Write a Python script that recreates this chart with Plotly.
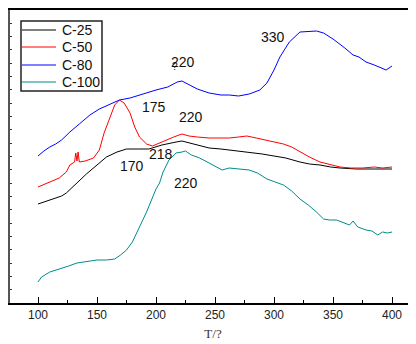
import plotly.graph_objects as go

# Temperature (T) and signal (a.u.)
t_c25 = [100,110,120,124,130,135,141,150,158,167,175,185,194,205,212,217,222,228,236,245,255,262,270,279,290,300,310,322,330,339,348,356,370,385,400]
y_c25 = [99,103,107,110,117,122,129,138,146,151,154,154,154,158,160,161,162,160,158,155,154,153,152,151,149,147,145,141,139,138,136,135,134,134,134]

t_c50 = [100,110,118,124,127,131,132,133,134,135,140,147,152,156,161,165,169,173,178,182,186,192,197,203,210,215,222,228,235,245,255,262,270,277,285,292,300,308,315,322,330,339,348,356,365,375,385,392,400]
y_c50 = [116,121,125,131,138,141,150,142,151,141,142,145,153,170,186,198,203,200,190,176,166,159,157,160,164,166,169,167,166,165,165,165,166,167,165,163,161,159,156,151,146,141,138,136,135,135,136,135,136]

t_c80 = [100,105,110,115,120,127,135,144,152,161,169,178,186,194,200,210,218,222,228,235,245,255,262,270,279,288,294,300,305,313,322,330,336,342,350,360,367,372,378,385,389,393,395,400]
y_c80 = [147,152,156,159,163,171,179,188,194,199,203,205,208,211,213,216,221,222,218,214,210,208,208,207,209,213,220,233,246,261,271,272,272,270,264,255,248,246,241,238,236,234,233,237]

t_c100 = [100,103,110,119,126,133,140,150,158,165,170,175,180,183,188,192,196,200,203,206,211,217,222,225,230,237,245,256,262,270,279,286,294,301,308,315,322,329,336,342,347,353,358,364,367,371,378,383,388,392,396,400]
y_c100 = [21,26,31,34,37,40,41,43,43,44,48,53,61,68,81,91,103,114,120,131,143,150,151,152,148,145,140,133,135,134,133,130,124,121,118,112,104,98,91,84,83,83,81,78,82,76,73,72,68,71,70,71]

series_names = ["C-25", "C-50", "C-80", "C-100"]
series_colors = ["#000000", "#ff0000", "#0000ff", "#008b8b"]

ann_text = ["220", "330", "175", "220", "218", "170", "220"]
ann_t = [223, 299, 198, 230, 204.5, 180, 225]
ann_y = [241, 266, 196, 186, 149, 137, 120]

x_ticks = [100, 150, 200, 250, 300, 350, 400]

FONT = "Liberation Sans, Arial"

fig = go.Figure()
for name, tx, ty, col in zip(series_names, [t_c25, t_c50, t_c80, t_c100],
                             [y_c25, y_c50, y_c80, y_c100], series_colors):
    fig.add_trace(go.Scatter(x=tx, y=ty, mode="lines", name=name,
                             line=dict(color=col, width=1), showlegend=False))

for txt, ax_, ay_ in zip(ann_text, ann_t, ann_y):
    fig.add_annotation(x=ax_, y=ay_, text=txt, showarrow=False,
                       font=dict(family=FONT, size=14, color="#111"))
# small stray glyph overlapping the blue "220" label
fig.add_annotation(x=216.1, y=237, text="?", showarrow=False,
                   font=dict(family=FONT, size=10, color="#111"))

# legend box drawn in paper coordinates
leg_x0, leg_x1, leg_y0, leg_y1 = 0.0271, 0.2266, 0.7235, 0.9625
fig.add_shape(type="rect", xref="paper", yref="paper",
              x0=leg_x0, x1=leg_x1, y0=leg_y0, y1=leg_y1,
              line=dict(color="#222", width=1.5), fillcolor="white", layer="above")
row_y = [0.9317, 0.8737, 0.8123, 0.7543]
for name, col, ry in zip(series_names, series_colors, row_y):
    fig.add_shape(type="line", xref="paper", yref="paper",
                  x0=0.0296, x1=0.1133, y0=ry, y1=ry,
                  line=dict(color=col, width=1.2), layer="above")
    fig.add_annotation(xref="paper", yref="paper", x=0.1232, y=ry, text=name,
                       showarrow=False, xanchor="left", yanchor="middle",
                       font=dict(family=FONT, size=14, color="#111"))

fig.update_layout(
    width=408, height=336,
    margin=dict(l=2, r=0, t=2, b=41),
    paper_bgcolor="white", plot_bgcolor="white",
    showlegend=False,
    font=dict(family=FONT),
)
fig.update_xaxes(
    range=[76.27, 420.34], showgrid=False, zeroline=False,
    showline=True, linecolor="black", linewidth=1.5, mirror=True,
    ticks="inside", ticklen=6, tickwidth=1, tickcolor="black",
    tickvals=x_ticks, ticktext=[str(v) for v in x_ticks],
    tickfont=dict(family=FONT, size=12, color="#222"),
    minor=dict(ticks="inside", ticklen=3, tickwidth=1, tickcolor="black", dtick=25, tick0=0),
    title=dict(text="T/?", font=dict(family="Liberation Serif, Times New Roman", size=13, color="#333"),
               standoff=8),
    automargin=False,
)
fig.update_yaxes(
    range=[0, 293], showgrid=False, zeroline=False,
    showline=True, linecolor="#555", linewidth=2, mirror=False,
    ticks="inside", ticklen=2, tickwidth=1, tickcolor="#333",
    tick0=13.3, dtick=13.33, showticklabels=False,
)
fig.write_html("out.html")
